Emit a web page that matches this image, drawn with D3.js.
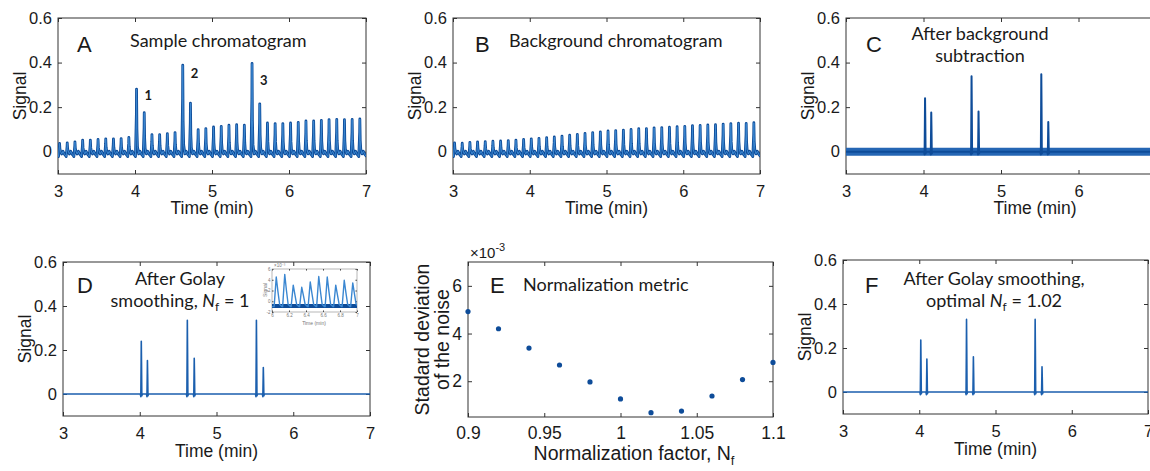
<!DOCTYPE html>
<html>
<head>
<meta charset="utf-8">
<script src="https://cdn.jsdelivr.net/npm/d3@7"></script>
<style>
  body { margin: 0; background: #fff; }
  svg { display: block; }
</style>
</head>
<body>
<div id="chart"></div>
<script>
// modulation pulse times (min), one pulse every 0.1 min
var pulseTimes = [3.02, 3.12, 3.22, 3.32, 3.42, 3.52, 3.62, 3.72, 3.82, 3.92,
                  4.02, 4.12, 4.22, 4.32, 4.42, 4.52, 4.62, 4.72, 4.82, 4.92,
                  5.02, 5.12, 5.22, 5.32, 5.42, 5.52, 5.62, 5.72, 5.82, 5.92,
                  6.02, 6.12, 6.22, 6.32, 6.42, 6.52, 6.62, 6.72, 6.82, 6.92];
// A: pulse heights of the sample chromatogram
var sampleHeights = [0.037, 0.040, 0.044, 0.052, 0.052, 0.055, 0.058, 0.058, 0.059, 0.064,
                     0.281, 0.175, 0.077, 0.077, 0.081, 0.086, 0.388, 0.218, 0.099, 0.104,
                     0.111, 0.114, 0.119, 0.121, 0.119, 0.396, 0.215, 0.129, 0.126, 0.126,
                     0.129, 0.132, 0.138, 0.138, 0.141, 0.144, 0.145, 0.144, 0.145, 0.147];
// B: pulse heights of the background chromatogram
var backgroundHeights = [0.040, 0.038, 0.042, 0.044, 0.045, 0.047, 0.048, 0.050, 0.052, 0.055,
                         0.058, 0.060, 0.063, 0.066, 0.070, 0.074, 0.078, 0.082, 0.086, 0.089,
                         0.093, 0.095, 0.097, 0.100, 0.103, 0.104, 0.107, 0.108, 0.110, 0.112,
                         0.114, 0.117, 0.118, 0.120, 0.121, 0.124, 0.126, 0.128, 0.127, 0.130];
// one pulse: [min after pulse, share of pulse height, offset]
var pulseShape = [[-0.014, 0, -0.022], [-0.002, 0.6, 0], [0, 1, 0], [0.005, 0.35, 0],
                  [0.012, 0.08, 0], [0.028, 0, -0.01], [0.045, 0, 0.002],
                  [0.065, 0, -0.012], [0.084, 0, -0.02]];

// analyte peaks (C, D, F)
var peakTimes = [4.02, 4.10, 4.62, 4.71, 5.52, 5.61];
var subtractedHeights = [0.240, 0.176, 0.339, 0.180, 0.348, 0.133];
var smoothedHeights = [0.240, 0.152, 0.335, 0.162, 0.335, 0.120];
var optimalHeights = [0.236, 0.150, 0.330, 0.160, 0.330, 0.115];
var peakShape = [[-0.012, 0, 0], [-0.006, 0, -0.012], [-0.002, 0.6, 0], [0, 1, 0],
                 [0.003, 0.6, 0], [0.007, 0, -0.008], [0.014, 0, 0]];

// E: noise metric
var normFactors = [0.90, 0.92, 0.94, 0.96, 0.98, 1.00, 1.02, 1.04, 1.06, 1.08, 1.10];
var noiseStd = [4.92, 4.20, 3.39, 2.68, 1.97, 1.26, 0.68, 0.75, 1.38, 2.07, 2.79]; // x1e-3

// D inset (x1e-3)
var insetTimes = [6.05, 6.15, 6.25, 6.35, 6.45, 6.55, 6.65, 6.75, 6.85, 6.95];
var insetHeights = [4.5, 5.0, 3.0, 2.6, 3.6, 4.6, 4.5, 3.0, 3.9, 3.4];

var timeTicks = [3, 4, 5, 6, 7];
var signalTicks = [0, 0.2, 0.4, 0.6];
var nfTicks = [0.9, 0.95, 1, 1.05, 1.1];
var stdTicks = [2, 4, 6];

var svg = d3.select("#chart").append("svg").attr("width", 1150).attr("height", 471);
var ink = "#1a1a1a", boxInk = "#333", blueDark = "#0e4c99", blueLight = "#3b87d1";
var tickFont = "'Liberation Sans', Arial, sans-serif", titleFont = "Lato, 'Open Sans', sans-serif";

function panel(o) {
    var x = d3.scaleLinear().domain(o.xDomain).range([o.left, o.right]);
    var y = d3.scaleLinear().domain(o.yDomain).range([o.bottom, o.top]);
    var g = svg.append("g");
    var id = "clip" + o.name;
    svg.append("clipPath").attr("id", id).append("rect")
        .attr("x", o.left).attr("y", o.top)
        .attr("width", o.right - o.left).attr("height", o.bottom - o.top);
    var fs = o.tickSize || 16.5;
    var tl = o.tickLen || 4;
    var fmt = function (d) { return String(d); };

    g.append("g").attr("transform", "translate(0," + o.bottom + ")")
        .call(d3.axisBottom(x).tickValues(o.xTicks).tickSize(-tl).tickPadding(o.xPad || 11).tickFormat(fmt));
    g.append("g").attr("transform", "translate(0," + o.top + ")")
        .call(d3.axisTop(x).tickValues(o.xTicks).tickSize(-tl).tickFormat(""));
    g.append("g").attr("transform", "translate(" + o.left + ",0)")
        .call(d3.axisLeft(y).tickValues(o.yTicks).tickSize(-tl).tickPadding(o.yPad || 6).tickFormat(fmt));
    g.append("g").attr("transform", "translate(" + o.right + ",0)")
        .call(d3.axisRight(y).tickValues(o.yTicks).tickSize(-tl).tickFormat(""));
    g.selectAll(".domain").remove();
    g.selectAll(".tick line").attr("stroke", boxInk);
    g.selectAll(".tick text").attr("font-family", tickFont).attr("font-size", fs).attr("fill", ink);

    g.append("rect").attr("x", o.left).attr("y", o.top)
        .attr("width", o.right - o.left).attr("height", o.bottom - o.top)
        .attr("fill", "none").attr("stroke", boxInk).attr("stroke-width", 1);

    var plot = g.append("g").attr("clip-path", "url(#" + id + ")");
    return { g: g, plot: plot, x: x, y: y, o: o };
}

function axisLabels(p, xText, yText, lsize) {
    var o = p.o;
    lsize = lsize || 17.5;
    if (xText) {
        p.g.append("text").attr("x", (o.left + Math.min(o.right, 1150)) / 2 + (o.xLabelShift || 0))
            .attr("y", o.bottom + (o.xLabelOff || 40))
            .attr("text-anchor", "middle").attr("font-family", tickFont)
            .attr("font-size", lsize).attr("fill", ink).text(xText);
    }
    if (yText) {
        var cy = (o.top + o.bottom) / 2;
        p.g.append("text").attr("transform", "translate(" + (o.left - 32) + "," + cy + ") rotate(-90)")
            .attr("text-anchor", "middle").attr("font-family", tickFont)
            .attr("font-size", lsize).attr("fill", ink).text(yText);
    }
}

function letter(p, s, x, y) {
    p.g.append("text").attr("x", x).attr("y", y).attr("font-family", tickFont)
        .attr("font-size", 22).attr("fill", ink).text(s);
}

function title(p, lines, x, y, anchor) {
    lines.forEach(function (ln, i) {
        var t = p.g.append("text").attr("x", x).attr("y", y + i * 22)
            .attr("text-anchor", anchor || "start").attr("font-family", titleFont)
            .attr("font-size", 18).attr("fill", ink);
        if (typeof ln === "string") {
            t.text(ln);
        } else {
            // [before, after] around italic N with subscript f
            t.append("tspan").text(ln[0]);
            t.append("tspan").attr("font-style", "italic").text("N");
            t.append("tspan").attr("font-size", 12).attr("dy", 4).text("f");
            t.append("tspan").attr("dy", -4).text(ln[1]);
        }
    });
}

function pulseTrace(times, heights) {
    var pts = [[3, -0.02]];
    times.forEach(function (t, i) {
        pulseShape.forEach(function (s) { pts.push([t + s[0], s[1] * heights[i] + s[2]]); });
    });
    pts.push([7, -0.015]);
    return pts;
}

function peakTrace(times, heights) {
    var pts = [[3, 0]];
    times.forEach(function (t, i) {
        peakShape.forEach(function (s) { pts.push([t + s[0], s[1] * heights[i] + s[2]]); });
    });
    pts.push([7, 0]);
    return pts;
}

function drawLine(p, pts, color, width) {
    var line = d3.line().x(function (d) { return p.x(d[0]); }).y(function (d) { return p.y(d[1]); });
    p.plot.append("path").datum(pts).attr("d", line)
        .attr("fill", "none").attr("stroke", color).attr("stroke-width", width)
        .attr("stroke-linejoin", "round");
}

var timeOpts = { xDomain: [3, 7], yDomain: [-0.1, 0.6], xTicks: timeTicks, yTicks: signalTicks };

/** A **/
var pA = panel(Object.assign({ name: "A", left: 58, right: 366, top: 18, bottom: 174 }, timeOpts));
var trA = pulseTrace(pulseTimes, sampleHeights);
drawLine(pA, trA, blueDark, 2.8);
drawLine(pA, trA, blueLight, 1);
axisLabels(pA, "Time (min)", "Signal");
letter(pA, "A", 77, 52);
title(pA, ["Sample chromatogram"], 130, 47);
var peakLabels = [{ s: "1", t: 4.02, v: 0.232 }, { s: "2", t: 4.62, v: 0.33 }, { s: "3", t: 5.52, v: 0.30 }];
peakLabels.forEach(function (d) {
    pA.g.append("text").attr("x", pA.x(d.t) + 8).attr("y", pA.y(d.v))
        .attr("font-family", titleFont).attr("font-weight", 700).attr("font-size", 13)
        .attr("fill", ink).text(d.s);
});

/** B **/
var pB = panel(Object.assign({ name: "B", left: 453, right: 760, top: 18, bottom: 174 }, timeOpts));
var trB = pulseTrace(pulseTimes, backgroundHeights);
drawLine(pB, trB, blueDark, 2.8);
drawLine(pB, trB, blueLight, 1);
axisLabels(pB, "Time (min)", "Signal");
letter(pB, "B", 475, 52);
title(pB, ["Background chromatogram"], 509, 47);

/** C: its right edge lies past the picture, so the 7 tick is not shown **/
var pC = panel(Object.assign({}, timeOpts, { name: "C", left: 846, right: 1156, top: 18, bottom: 174,
    xTicks: [3, 4, 5, 6] }));
pC.o.xLabelShift = 37;
drawLine(pC, [[3, 0], [7, 0]], "#2566b4", 8);
drawLine(pC, peakTrace(peakTimes, subtractedHeights), blueDark, 2);
axisLabels(pC, "Time (min)", "Signal");
letter(pC, "C", 866, 52);
title(pC, ["After background", "subtraction"], 980, 40, "middle");

/** D **/
var pD = panel(Object.assign({ name: "D", left: 63, right: 370, top: 262, bottom: 416 }, timeOpts));
pD.o.xLabelOff = 41;
drawLine(pD, peakTrace(peakTimes, smoothedHeights), "#1b5fae", 1.6);
axisLabels(pD, "Time (min)", "Signal");
letter(pD, "D", 77, 293);
title(pD, ["After Golay", ["smoothing, ", " = 1"]], 180, 285, "middle");

// inset in D
var inset = panel({ name: "Dinset", left: 272, right: 357, top: 269, bottom: 312,
    xDomain: [6, 7], yDomain: [-2, 6], xTicks: [6, 6.2, 6.4, 6.6, 6.8, 7], yTicks: [-2, 0, 2, 4, 6],
    tickSize: 4.5, tickLen: 1.5, xPad: 2, yPad: 1.5 });
inset.g.selectAll("rect").attr("stroke", "#888").attr("stroke-width", 0.6);
inset.g.selectAll(".tick text").attr("fill", "#777");
drawLine(inset, [[6, -0.9], [7, -0.9]], blueDark, 4);
var insetPts = [[6, -1]];
insetTimes.forEach(function (t, i) {
    insetPts.push([t - 0.025, -1], [t, insetHeights[i]], [t + 0.02, insetHeights[i] * 0.4], [t + 0.04, -0.6], [t + 0.07, -1]);
});
drawLine(inset, insetPts, blueLight, 1.4);
inset.g.append("text").attr("x", 314).attr("y", 325).attr("text-anchor", "middle")
    .attr("font-family", tickFont).attr("font-size", 5).attr("fill", "#777").text("Time (min)");
inset.g.append("text").attr("transform", "translate(267,290) rotate(-90)").attr("text-anchor", "middle")
    .attr("font-family", tickFont).attr("font-size", 5).attr("fill", "#777").text("Signal");
inset.g.append("text").attr("x", 274).attr("y", 267)
    .attr("font-family", tickFont).attr("font-size", 4.5).attr("fill", "#777").text("×10⁻³");

/** E **/
var pE = panel({ name: "E", left: 468, right: 773, top: 262, bottom: 417,
    xDomain: [0.9, 1.1], yDomain: [0.5, 7], xTicks: nfTicks, yTicks: stdTicks, tickSize: 17.5, xPad: 10 });
pE.plot.attr("clip-path", null);
pE.plot.selectAll("circle").data(normFactors).enter().append("circle")
    .attr("cx", function (d) { return pE.x(d); })
    .attr("cy", function (d, i) { return pE.y(noiseStd[i]); })
    .attr("r", 2.6).attr("fill", blueDark);
var xlE = pE.g.append("text").attr("x", 634).attr("y", 460).attr("text-anchor", "middle")
    .attr("font-family", tickFont).attr("font-size", 19.5).attr("fill", ink);
xlE.append("tspan").text("Normalization factor, N");
xlE.append("tspan").attr("font-size", 13).attr("dy", 5).text("f");
["Stadard deviation", "of the noise"].forEach(function (s, i) {
    pE.g.append("text").attr("transform", "translate(" + (429 + i * 20) + "," + ((262 + 417) / 2) + ") rotate(-90)")
        .attr("text-anchor", "middle").attr("font-family", tickFont).attr("font-size", 19.5)
        .attr("fill", ink).text(s);
});
var expE = pE.g.append("text").attr("x", 470).attr("y", 258)
    .attr("font-family", tickFont).attr("font-size", 15).attr("fill", ink);
expE.append("tspan").text("×10");
expE.append("tspan").attr("font-size", 11).attr("dy", -7).text("-3");
letter(pE, "E", 490, 293);
title(pE, ["Normalization metric"], 523, 291);

/** F: its right edge is cut by the picture **/
var pF = panel(Object.assign({ name: "F", left: 843, right: 1148, top: 260, bottom: 414 }, timeOpts));
pF.o.xLabelOff = 41;
drawLine(pF, peakTrace(peakTimes, optimalHeights), "#1b5fae", 1.6);
axisLabels(pF, "Time (min)", "Signal");
letter(pF, "F", 865, 293);
title(pF, ["After Golay smoothing,", ["optimal ", " = 1.02"]], 994, 285, "middle");
</script>
</body>
</html>
